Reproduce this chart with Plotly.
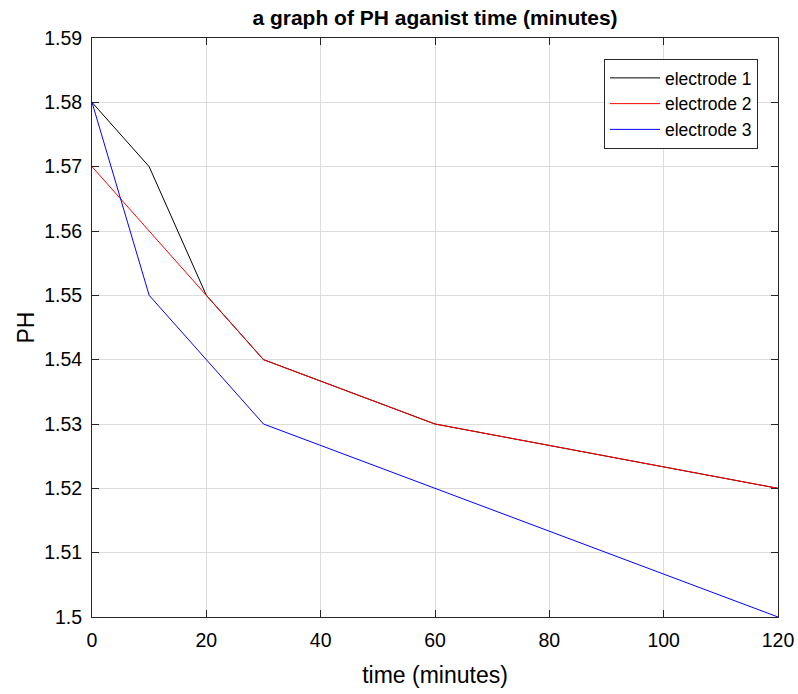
import plotly.graph_objects as go

time_min = [0, 10, 20, 30, 60, 120]
electrode1 = [1.58, 1.57, 1.55, 1.54, 1.53, 1.52]
electrode2 = [1.57, 1.56, 1.55, 1.54, 1.53, 1.52]
electrode3 = [1.58, 1.55, 1.54, 1.53, 1.52, 1.50]

x_ticks = [0, 20, 40, 60, 80, 100, 120]
y_ticks = [1.50, 1.51, 1.52, 1.53, 1.54, 1.55, 1.56, 1.57, 1.58, 1.59]
y_ticktext = ["1.5", "1.51", "1.52", "1.53", "1.54", "1.55", "1.56", "1.57", "1.58", "1.59"]

FONT = "Liberation Sans, Arial"

fig = go.Figure()
for name, ys, col in [("electrode 1", electrode1, "#000000"),
                      ("electrode 2", electrode2, "#ff0000"),
                      ("electrode 3", electrode3, "#0000ff")]:
    fig.add_trace(go.Scatter(x=time_min, y=ys, mode="lines", name=name,
                             line=dict(color=col, width=1)))

axis_common = dict(
    showline=True, linecolor="#262626", linewidth=1, mirror="ticks",
    ticks="inside", ticklen=7, tickwidth=1, tickcolor="#262626",
    showgrid=True, gridcolor="#dcdcdc", gridwidth=1, zeroline=False,
    automargin=False,
    tickfont=dict(family=FONT, size=19.5, color="#000000"),
)

fig.update_layout(
    width=798, height=694,
    margin=dict(l=92, r=20, t=38, b=77),
    paper_bgcolor="white", plot_bgcolor="white",
    title=dict(text="<b>a graph of PH aganist time (minutes)</b>",
               x=(92 + 778) / 2 / 798, xanchor="center", y=1 - 18 / 694, yanchor="middle",
               font=dict(family=FONT, size=21, color="#000000"),
               automargin=False),
    xaxis=dict(range=[0, 120], tickvals=x_ticks, ticklabelstandoff=6,
               title=dict(text="time (minutes)", standoff=16,
                          font=dict(family=FONT, size=23, color="#000000")),
               **axis_common),
    yaxis=dict(range=[1.5, 1.59], tickvals=y_ticks, ticktext=y_ticktext, ticklabelstandoff=5,
               title=dict(text="PH", standoff=3,
                          font=dict(family=FONT, size=23, color="#000000")),
               **axis_common),
    legend=dict(x=1 - (778 - 758) / 686, xanchor="right", y=1 - (59 - 38) / 579, yanchor="top",
                bgcolor="white", bordercolor="#262626", borderwidth=1,
                font=dict(family=FONT, size=17.5, color="#000000"),
                tracegroupgap=0, itemwidth=50),
    showlegend=True,
)

fig.write_html("out.html")
